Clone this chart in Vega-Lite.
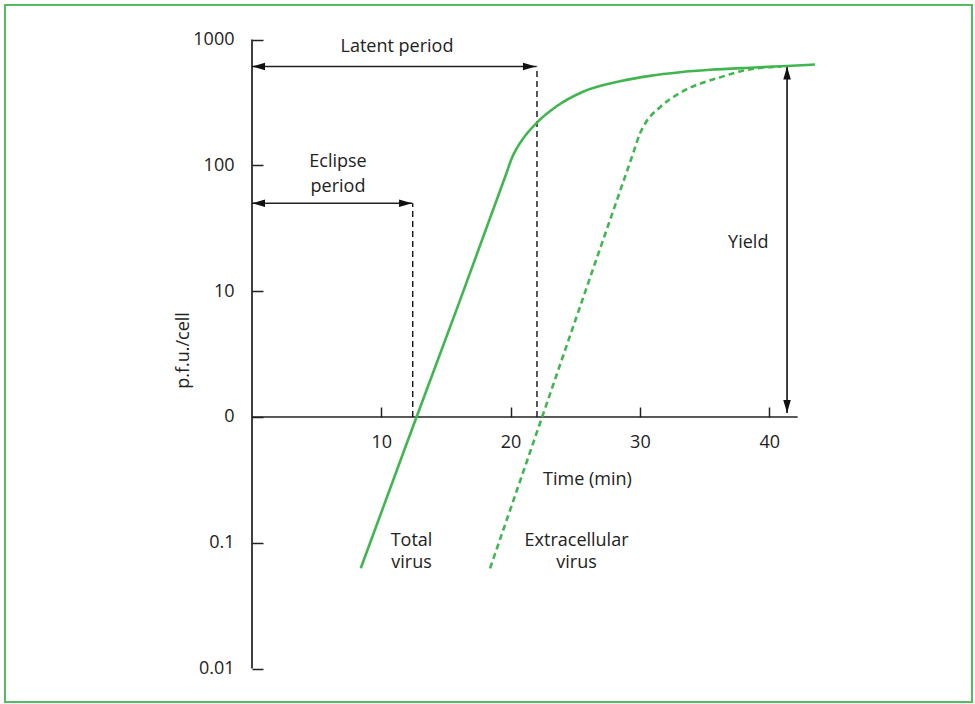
{
  "$schema": "https://vega.github.io/schema/vega-lite/v6.json",
  "width": 967,
  "height": 697,
  "autosize": {"type": "none"},
  "padding": {"left": 5, "top": 5, "right": 3, "bottom": 2},
  "background": "white",
  "config": {
    "view": {"stroke": "#55bb60", "strokeWidth": 2},
    "font": "Open Sans"
  },
  "datasets": {
    "curves": [
      {"series": "Total", "t": 8.41, "v": 0.0627},
      {"series": "Total", "t": 12.0, "v": 0.63},
      {"series": "Total", "t": 16.0, "v": 8.0},
      {"series": "Total", "t": 19.6, "v": 82.4},
      {"series": "Total", "t": 20.09, "v": 113.8},
      {"series": "Total", "t": 20.98, "v": 164},
      {"series": "Total", "t": 22.04, "v": 219},
      {"series": "Total", "t": 23.56, "v": 295},
      {"series": "Total", "t": 25.6, "v": 385},
      {"series": "Total", "t": 28.46, "v": 466},
      {"series": "Total", "t": 30.78, "v": 515},
      {"series": "Total", "t": 33.1, "v": 550},
      {"series": "Total", "t": 35.42, "v": 575},
      {"series": "Total", "t": 38.5, "v": 598},
      {"series": "Total", "t": 41.38, "v": 617},
      {"series": "Total", "t": 43.54, "v": 634},
      {"series": "Extracellular", "t": 18.41, "v": 0.0627},
      {"series": "Extracellular", "t": 22.0, "v": 0.74},
      {"series": "Extracellular", "t": 26.0, "v": 11.6},
      {"series": "Extracellular", "t": 29.5, "v": 126.8},
      {"series": "Extracellular", "t": 30.01, "v": 180},
      {"series": "Extracellular", "t": 30.39, "v": 214},
      {"series": "Extracellular", "t": 31.55, "v": 290},
      {"series": "Extracellular", "t": 33.1, "v": 377},
      {"series": "Extracellular", "t": 35.09, "v": 463},
      {"series": "Extracellular", "t": 35.96, "v": 492},
      {"series": "Extracellular", "t": 37.66, "v": 556},
      {"series": "Extracellular", "t": 39.29, "v": 595},
      {"series": "Extracellular", "t": 40.91, "v": 610}
    ],
    "hrules": [
      {"name": "x axis", "t": 0, "t2": 42.2, "v": 1},
      {"name": "latent", "t": 0, "t2": 22.0, "v": 611},
      {"name": "eclipse", "t": 0, "t2": 12.4, "v": 50}
    ],
    "vrules": [
      {"name": "y axis", "t": 0, "v": 0.01, "v2": 1000},
      {"name": "yield", "t": 41.38, "v": 1.076, "v2": 611}
    ],
    "dashed": [
      {"name": "latent end", "t": 22.04, "v": 1, "v2": 611},
      {"name": "eclipse end", "t": 12.43, "v": 1, "v2": 50}
    ],
    "heads": [
      {"dir": "left", "t": 0, "v": 611},
      {"dir": "right", "t": 21.96, "v": 611},
      {"dir": "left", "t": 0, "v": 50},
      {"dir": "right", "t": 12.38, "v": 50},
      {"dir": "up", "t": 41.38, "v": 611},
      {"dir": "down", "t": 41.38, "v": 1.076}
    ],
    "labels": [
      {"text": "Latent period", "t": 11.21, "v": 800},
      {"text": "Eclipse", "t": 6.65, "v": 97},
      {"text": "period", "t": 6.65, "v": 61},
      {"text": "Yield", "t": 38.38, "v": 21.93},
      {"text": "Total", "t": 12.34, "v": 0.09482},
      {"text": "virus", "t": 12.34, "v": 0.06271},
      {"text": "Extracellular", "t": 25.1, "v": 0.09482},
      {"text": "virus", "t": 25.1, "v": 0.06271}
    ]
  },
  "encoding": {
    "x": {
      "field": "t",
      "type": "quantitative",
      "scale": {"domain": [-19.103, 55.684], "nice": false, "zero": false},
      "axis": {
        "orient": "bottom",
        "values": [10, 20, 30, 40],
        "domain": false,
        "grid": false,
        "offset": -285,
        "tickSize": -10,
        "tickWidth": 1.5,
        "tickColor": "#222",
        "labelPadding": 26,
        "labelFontSize": 18,
        "labelColor": "#222",
        "labelFlush": false,
        "title": "Time (min)",
        "titleFontSize": 18,
        "titleFontWeight": "normal",
        "titleColor": "#222",
        "titleX": 582,
        "titleY": 67,
        "titleAlign": "center",
        "titleBaseline": "alphabetic"
      }
    },
    "y": {
      "field": "v",
      "type": "quantitative",
      "scale": {"type": "log", "domain": [0.0054264, 1883.6], "nice": false},
      "axis": {
        "values": [0.01, 0.1, 1, 10, 100, 1000],
        "domain": false,
        "grid": false,
        "offset": -247,
        "tickSize": -11,
        "tickWidth": 1.5,
        "tickColor": "#222",
        "labelPadding": 29,
        "labelFontSize": 18,
        "labelColor": "#222",
        "labelFlush": false,
        "labelExpr": "datum.value == 1 ? '0' : (datum.value < 1 ? format(datum.value, '.2~f') : format(datum.value, 'd'))",
        "title": "p.f.u./cell",
        "titleFontSize": 18,
        "titleFontWeight": "normal",
        "titleColor": "#222",
        "titleAngle": -90,
        "titleX": -63.5,
        "titleY": 345,
        "titleAlign": "center",
        "titleBaseline": "alphabetic"
      }
    }
  },
  "layer": [
    {
      "data": {"name": "hrules"},
      "mark": {"type": "rule", "color": "#222", "strokeWidth": 1.6},
      "encoding": {"x2": {"field": "t2"}}
    },
    {
      "data": {"name": "vrules"},
      "mark": {"type": "rule", "color": "#111", "strokeWidth": 1.6},
      "encoding": {"y2": {"field": "v2"}}
    },
    {
      "data": {"name": "dashed"},
      "mark": {"type": "rule", "color": "#111", "strokeWidth": 1.4, "strokeDash": [6, 4]},
      "encoding": {"y2": {"field": "v2"}}
    },
    {
      "data": {"name": "curves"},
      "transform": [{"filter": "datum.series == 'Total'"}],
      "mark": {"type": "line", "color": "#41b650", "strokeWidth": 2.6, "interpolate": "monotone"},
      "encoding": {}
    },
    {
      "data": {"name": "curves"},
      "transform": [{"filter": "datum.series == 'Extracellular'"}],
      "mark": {"type": "line", "color": "#41b650", "strokeWidth": 2.6, "interpolate": "monotone", "strokeDash": [6, 4]},
      "encoding": {}
    },
    {
      "data": {"name": "heads"},
      "mark": {"type": "point", "filled": true, "color": "#111", "opacity": 1, "size": 169, "strokeWidth": 0},
      "encoding": {
        "shape": {
          "field": "dir",
          "type": "nominal",
          "legend": null,
          "scale": {
            "domain": ["left", "right", "up", "down"],
            "range": [
              "M0,0L2,-0.58L2,0.58Z",
              "M0,0L-2,-0.58L-2,0.58Z",
              "M0,0L-0.58,2L0.58,2Z",
              "M0,0L-0.58,-2L0.58,-2Z"
            ]
          }
        }
      }
    },
    {
      "data": {"name": "labels"},
      "mark": {"type": "text", "fontSize": 18, "color": "#222", "align": "center", "baseline": "alphabetic"},
      "encoding": {"text": {"field": "text"}}
    }
  ]
}
